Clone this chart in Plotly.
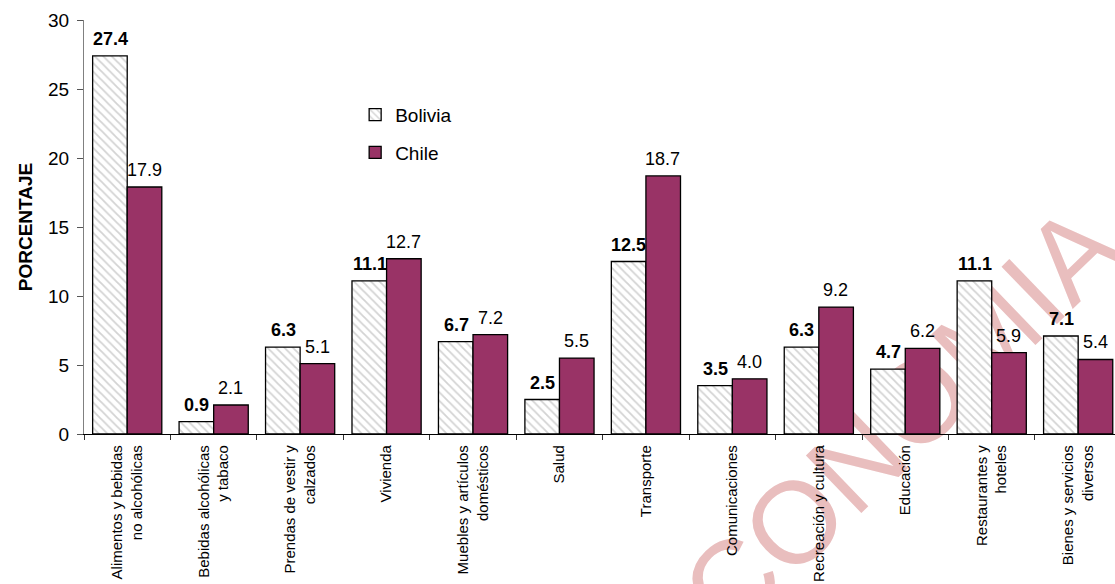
import plotly.graph_objects as go

categories = [
    "Alimentos y bebidas<br>no alcohólicas",
    "Bebidas alcohólicas<br>y tabaco",
    "Prendas de vestir y<br>calzados",
    "Vivienda",
    "Muebles y artículos<br>domésticos",
    "Salud",
    "Transporte",
    "Comunicaciones",
    "Recreación y cultura",
    "Educación",
    "Restaurantes y<br>hoteles",
    "Bienes y servicios<br>diversos",
]
bolivia = [27.4, 0.9, 6.3, 11.1, 6.7, 2.5, 12.5, 3.5, 6.3, 4.7, 11.1, 7.1]
chile = [17.9, 2.1, 5.1, 12.7, 7.2, 5.5, 18.7, 4.0, 9.2, 6.2, 5.9, 5.4]

y_ticks = [0, 5, 10, 15, 20, 25, 30]

FONT = "Liberation Sans, Arial, sans-serif"
CHILE_COLOR = "#993366"

fig = go.Figure()
fig.add_trace(go.Bar(
    name="Bolivia", x=categories, y=bolivia, legendgroup="b",
    marker=dict(color="white", line=dict(color="black", width=1.3),
                pattern=dict(shape="\\", fgcolor="#a8a8a8", bgcolor="white",
                             size=6, solidity=0.3)),
))
fig.add_trace(go.Bar(
    name="Chile", x=categories, y=chile, legendgroup="c",
    marker=dict(color=CHILE_COLOR, line=dict(color="black", width=1.3)),
))

# value labels
for cat, v in zip(categories, bolivia):
    fig.add_annotation(x=cat, y=v, text=f"<b>{v:.1f}</b>", showarrow=False,
                       xref="x", yref="y", xshift=-17, yshift=5, yanchor="bottom",
                       font=dict(family=FONT, size=18, color="black"))
for cat, v in zip(categories, chile):
    fig.add_annotation(x=cat, y=v, text=f"{v:.1f}", showarrow=False,
                       xref="x", yref="y", xshift=17, yshift=5, yanchor="bottom",
                       font=dict(family=FONT, size=18, color="black"))

# watermark
fig.add_shape(type="rect", xref="paper", yref="paper",
              x0=0.755, x1=0.761, y0=-0.013, y1=-0.007,
              line=dict(width=0), fillcolor="rgba(0,0,0,0)", layer="below",
              label=dict(text="ECONOMIA", textangle=-44, textposition="middle center",
                         font=dict(family=FONT, size=116, color="rgb(233,190,190)")))

fig.update_layout(
    width=1115, height=584,
    margin=dict(l=84, r=0, t=20, b=150),
    paper_bgcolor="white", plot_bgcolor="rgba(0,0,0,0)",
    barmode="group", bargap=0.2, bargroupgap=0,
    font=dict(family=FONT, color="black"),
    showlegend=True,
    legend=dict(x=0.263, y=0.817, xanchor="left", yanchor="top",
                font=dict(family=FONT, size=19, color="black"),
                bgcolor="rgba(0,0,0,0)", tracegroupgap=10, traceorder="grouped"),
    xaxis=dict(
        range=[-0.5, 11.426], showline=True, linecolor="black", linewidth=1.3,
        ticks="outside", tickson="boundaries", ticklen=5, tickcolor="#333333",
        ticklabelstandoff=4,
        tickangle=-90, tickfont=dict(family=FONT, size=15, color="black"),
        showgrid=False, zeroline=False, fixedrange=True,
    ),
    yaxis=dict(
        range=[0, 30], tickvals=y_ticks, showline=True, linecolor="#808080", linewidth=1.3,
        ticks="outside", ticklen=6, tickcolor="#555555", ticklabelstandoff=4,
        tickfont=dict(family=FONT, size=19, color="black"),
        showgrid=False, zeroline=False,
        title=dict(text="<b>PORCENTAJE</b>", font=dict(family=FONT, size=19, color="black"),
                   standoff=10),
    ),
)

fig.write_html("out.html", config={"displayModeBar": False},
               post_script="document.body.style.margin='0';")
